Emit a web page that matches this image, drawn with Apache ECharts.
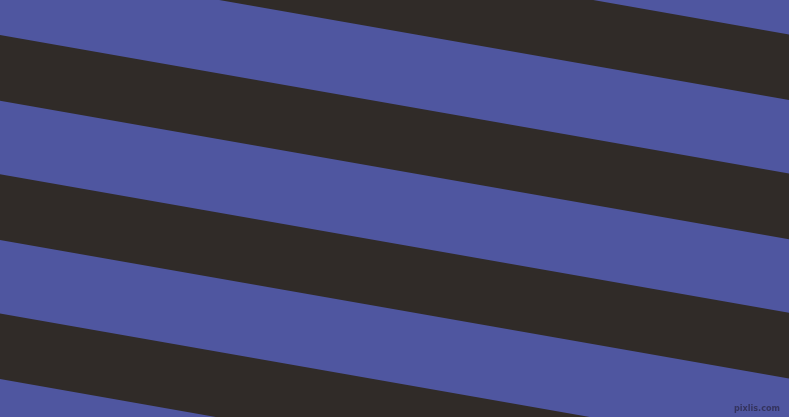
<!DOCTYPE html>
<html>
<head>
<meta charset="utf-8">
<script src="https://cdn.jsdelivr.net/npm/echarts@6/dist/echarts.min.js"></script>
<style>html,body{margin:0;padding:0;background:#4f56a0;}#c{width:789px;height:417px;}</style>
</head>
<body>
<div id="c"></div>
<script>
// Dark stripes: y of top edge at left border (x=0), vertical thickness, and drop across the width
var darkTopAtLeft = [-104.2, 35.0, 174.2, 313.4];
var darkThickness = [65.7, 65.7, 65.7, 65.7];
var dropAcross = 138.6;
var xRange = [0, 789];
var yRange = [0, 417];

var chart = echarts.init(document.getElementById('c'), null, {renderer: 'canvas'});
var data = darkTopAtLeft.map(function (t, i) { return [t, darkThickness[i]]; });

chart.setOption({
  backgroundColor: '#4f56a0',
  animation: false,
  grid: {left: 0, right: 0, top: 0, bottom: 0},
  xAxis: {type: 'value', min: xRange[0], max: xRange[1], show: false},
  yAxis: {type: 'value', min: yRange[0], max: yRange[1], inverse: true, show: false},
  series: [{
    type: 'custom',
    clip: true,
    data: data,
    renderItem: function (params, api) {
      var top = api.value(0), th = api.value(1);
      var p1 = api.coord([xRange[0], top]);
      var p2 = api.coord([xRange[1], top + dropAcross]);
      var p3 = api.coord([xRange[1], top + th + dropAcross]);
      var p4 = api.coord([xRange[0], top + th]);
      return {
        type: 'polygon',
        shape: {points: [p1, p2, p3, p4]},
        style: {fill: '#302b28'}
      };
    }
  }],
  graphic: [{
    type: 'text',
    right: 9,
    bottom: 4,
    style: {text: 'pixlis.com', fill: '#35345e', font: 'bold 9px "DejaVu Sans Condensed"'}
  }]
});
</script>
</body>
</html>
